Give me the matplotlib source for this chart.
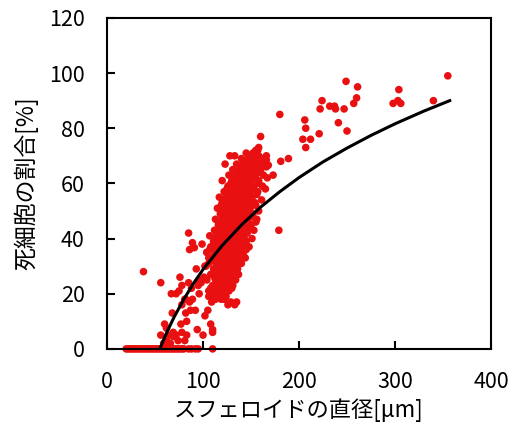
import matplotlib
matplotlib.use("Agg")
import matplotlib.pyplot as plt

plt.rcParams['font.family'] = ['Noto Sans CJK JP', 'DejaVu Sans']

# scattered points outside the main cluster (diameter um, dead cell %)
sparse_x = [355, 249, 261, 304, 260, 224, 257, 303, 306, 298, 340, 222, 232, 237, 238,
            247, 241, 250, 221, 206, 207, 204, 212, 207, 180, 181, 189, 179, 160, 158,
            157, 166, 166, 173, 168, 128, 133, 148, 123, 38, 56, 85, 89, 99, 86, 91]
sparse_y = [99, 97, 95, 94, 91, 90, 89, 90, 89, 89, 90, 87, 88, 88, 87,
            87, 82, 79, 78, 83, 80, 76, 76, 73, 85, 68, 69, 43, 77, 73,
            72, 70, 68.5, 63, 66.6, 70, 70, 70, 67, 28, 24, 42, 38.5, 38, 36, 36.7]

# small spheroids, low death ratio
low_x = [56, 60, 68, 67, 72, 76, 78, 75, 82, 85, 88, 86, 87, 92, 96, 98, 93, 95, 94,
         102, 100, 108, 110, 110, 105, 106, 109, 83, 78, 81, 69, 64, 62, 69, 74, 72,
         77, 83, 66, 59, 62, 82, 78, 81, 89, 96, 101, 103, 106, 102, 107, 104, 112]
low_y = [5, 9, 13, 20, 20, 26, 23, 21, 18, 24, 22, 17, 14, 14, 20, 24, 29, 23, 7,
         12, 5, 9, 7, 6, 14, 19, 17, 10, 6, 3, 4.5, 5, 7.5, 6, 3, 5,
         9, 5, 2, 2, 3, 13, 16, 18, 18, 25, 26, 30, 33, 30, 36, 35, 37]

# points at 0 %
zero_x = [20, 22, 24, 26, 28, 30, 32, 34, 36, 38, 40, 42, 44, 46, 48, 50, 52, 54,
          56, 58, 60, 62, 64, 66, 68, 70, 72, 74, 76, 78, 80, 85, 88, 92, 95, 110]

# dense cluster, one row per death ratio level
cluster_rows = {
    16: [126, 133],
    17: [129, 135],
    18: [113, 119, 122],
    19: [112, 118, 124],
    20: [110, 116, 120],
    21: [106, 115, 121, 127],
    22: [108, 112, 118, 126, 130],
    23: [110, 118, 124, 131],
    24: [115, 119, 123, 127],
    25: [104, 113, 120, 126, 134],
    26: [112, 117, 121, 129],
    27: [108, 116, 123, 130, 137],
    28: [114, 118, 122, 126, 134],
    29: [111, 119, 125, 131, 136],
    30: [116, 120, 127],
    31: [106, 114, 121, 127, 133, 140],
    32: [110, 118, 124, 128, 132],
    33: [109, 117, 124, 130, 137, 144],
    34: [113, 120, 127, 135, 142],
    35: [104, 112, 120, 126, 132, 139],
    36: [116, 122, 129, 134, 145],
    37: [108, 115, 122, 128, 135, 142, 148],
    38: [114, 118, 124, 131, 140],
    39: [111, 118, 125, 131, 138, 145],
    40: [113, 120, 127, 134, 143, 151],
    41: [107, 114, 121, 128, 134, 141],
    42: [116, 123, 129, 136, 146],
    43: [112, 119, 126, 132, 139, 146, 153],
    44: [120, 127, 134, 142, 149],
    45: [116, 123, 129, 136, 143, 150],
    46: [118, 126, 133, 140, 155],
    47: [113, 120, 127, 133, 140, 147, 156],
    48: [121, 128, 135, 143, 151],
    49: [118, 125, 131, 138, 145, 152],
    50: [123, 130, 137, 145, 158],
    51: [115, 122, 129, 135, 142, 149],
    52: [119, 126, 133, 140, 147, 155],
    53: [120, 127, 133, 140, 147, 154],
    54: [123, 130, 137, 144, 151, 161],
    55: [117, 124, 131, 137, 144, 151],
    56: [127, 134, 140, 147, 156],
    57: [122, 129, 135, 142, 149, 157],
    58: [125, 132, 139, 145, 153, 165],
    59: [126, 133, 139, 146, 153, 162],
    60: [129, 136, 143, 150, 158],
    61: [120, 130, 137, 143, 150, 158],
    62: [132, 140, 147, 154, 167],
    63: [127, 134, 141, 148, 155, 163],
    64: [136, 144, 151, 158],
    65: [131, 138, 145, 152, 160],
    66: [140, 148, 155, 166],
    67: [135, 142, 149, 157, 164],
    68: [144, 152, 161],
    69: [140, 147, 154, 162],
    70: [150, 158],
    71: [145, 152],
    72: [155],
}

# fitted curve
fit_x = [55, 60, 65, 70, 80, 90, 100, 120, 140, 160, 180, 200, 225, 250, 275, 300, 330, 357]
fit_y = [0, 4.2, 8.0, 11.6, 18.0, 23.7, 28.8, 37.5, 44.9, 51.4, 57.0, 62.1, 67.8, 72.8,
         77.4, 81.6, 86.2, 90.0]

cl_x = [x for yv, xs in cluster_rows.items() for x in xs]
cl_y = [yv for yv, xs in cluster_rows.items() for x in xs]

all_x = sparse_x + low_x + zero_x + cl_x
all_y = sparse_y + low_y + [0] * len(zero_x) + cl_y

fig = plt.figure(figsize=(5.12, 4.26), dpi=100)
ax = fig.add_axes([0.209, 0.181, 0.750, 0.777])

red = '#e81010'
ax.scatter(all_x, all_y, s=30, color=red, edgecolors='none', zorder=2, clip_on=False)
ax.plot(fit_x, fit_y, color='black', lw=2.2, zorder=3)

ax.set_xlim(0, 400)
ax.set_ylim(0, 120)
ax.set_xticks([0, 100, 200, 300, 400])
ax.set_yticks([0, 20, 40, 60, 80, 100, 120])
ax.tick_params(direction='in', length=6, width=1.5, pad=16, labelsize=15.5)
for sp in ax.spines.values():
    sp.set_linewidth(1.5)

ax.set_xlabel('スフェロイドの直径[μm]', fontsize=16, labelpad=4)
ax.set_ylabel('死細胞の割合[%]', fontsize=16.5, labelpad=8)

fig.savefig('out.png', dpi=100)
